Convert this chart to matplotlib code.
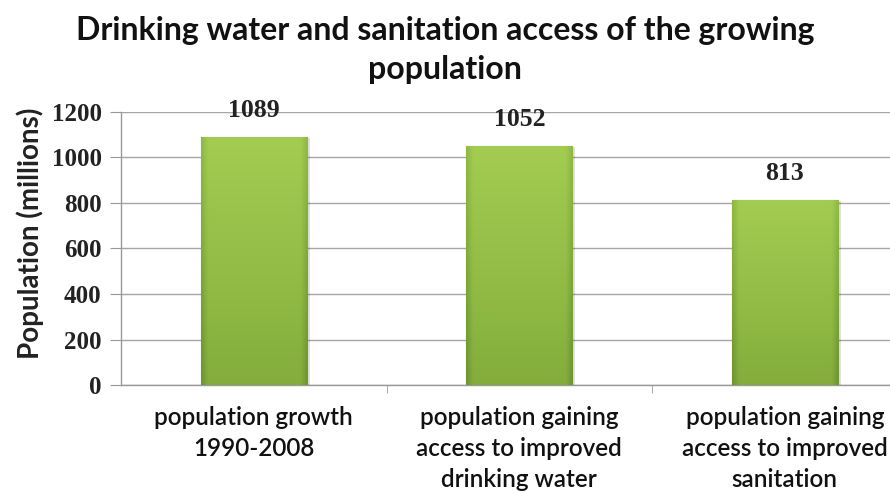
import numpy as np
import matplotlib
matplotlib.use("Agg")
import matplotlib.pyplot as plt
from matplotlib.colors import LinearSegmentedColormap

categories = [
    "population growth\n1990-2008",
    "population gaining\naccess to improved\ndrinking water",
    "population gaining\naccess to improved\nsanitation",
]
values = [1089, 1052, 813]
yticks = [0, 200, 400, 600, 800, 1000, 1200]

title = "Drinking water and sanitation access of the growing\npopulation"
ylabel = "Population (millions)"

sans = ["Lato", "DejaVu Sans"]
serif = ["Liberation Serif", "DejaVu Serif"]

fig = plt.figure(figsize=(8.90, 4.93), dpi=100)
ax = fig.add_axes([0.136, 0.219, 0.895, 0.554])

x = np.arange(len(values))
bar_w = 0.4
bars = ax.bar(x, values, width=bar_w, color="#93bf45", edgecolor="#6b8f2c",
              linewidth=0.8, zorder=3)

# shaded fill for each bar: lighter at the top, darker toward the bottom and sides
cmap = LinearSegmentedColormap.from_list("bar", ["#6f9430", "#8cb742", "#a9d155"])
ny, nx = 200, 60
vy = np.linspace(0, 1, ny)[:, None]
hx = np.linspace(-1, 1, nx)[None, :]
shade = 0.35 + 0.55 * vy - 0.35 * np.clip((np.abs(hx) - 0.88) / 0.12, 0, 1)
for b in bars:
    x0, w, h = b.get_x(), b.get_width(), b.get_height()
    im = ax.imshow(shade, extent=(x0, x0 + w, 0, h), origin="lower",
                   cmap=cmap, vmin=0, vmax=1, aspect="auto", zorder=3.5,
                   interpolation="bilinear")
    im.set_clip_path(b)
    # subtle drop shadow
    ax.add_patch(plt.Rectangle((x0 + 0.01, -4), w, h, facecolor="#000000",
                               alpha=0.12, zorder=2.9, linewidth=0))
    # value label above the bar
    ax.text(x0 + w / 2, h + 88, f"{h:.0f}", ha="center", va="baseline",
            fontsize=18.5, fontweight="bold", family=serif, color="#222222")

ax.set_xlim(-0.5, len(values) - 0.5)
ax.set_ylim(0, 1200)
ax.set_yticks(yticks)
ax.set_yticklabels([str(t) for t in yticks], family=serif, fontweight="bold",
                   fontsize=18, color="#222222")
ax.set_xticks(x)
ax.set_xticklabels(categories, family=sans, fontsize=17.5, fontweight="semibold",
                   color="#111111", linespacing=1.42)
ax.set_xticks([0.5, 1.5], minor=True)
ax.tick_params(axis="x", which="major", length=0, pad=15)
ax.tick_params(axis="x", which="minor", length=6, color="#999999", direction="out")
ax.tick_params(axis="y", length=8, color="#999999", direction="out", pad=6)

ax.grid(axis="y", color="#a6a6a6", linewidth=1.0, zorder=0)
ax.set_axisbelow(True)
for s in ["top", "right"]:
    ax.spines[s].set_visible(False)
for s in ["left", "bottom"]:
    ax.spines[s].set_color("#999999")
    ax.spines[s].set_linewidth(1.0)

ax.set_ylabel(ylabel, family=sans, fontweight="bold", fontsize=20,
              color="#222222", va="center")
ax.yaxis.set_label_coords(-0.114, 0.555)

fig.text(0.5, 0.968, title, ha="center", va="top", family=sans,
         fontweight="bold", fontsize=23, color="#111111", linespacing=1.42)

fig.savefig("out.png", dpi=100, facecolor="white")
